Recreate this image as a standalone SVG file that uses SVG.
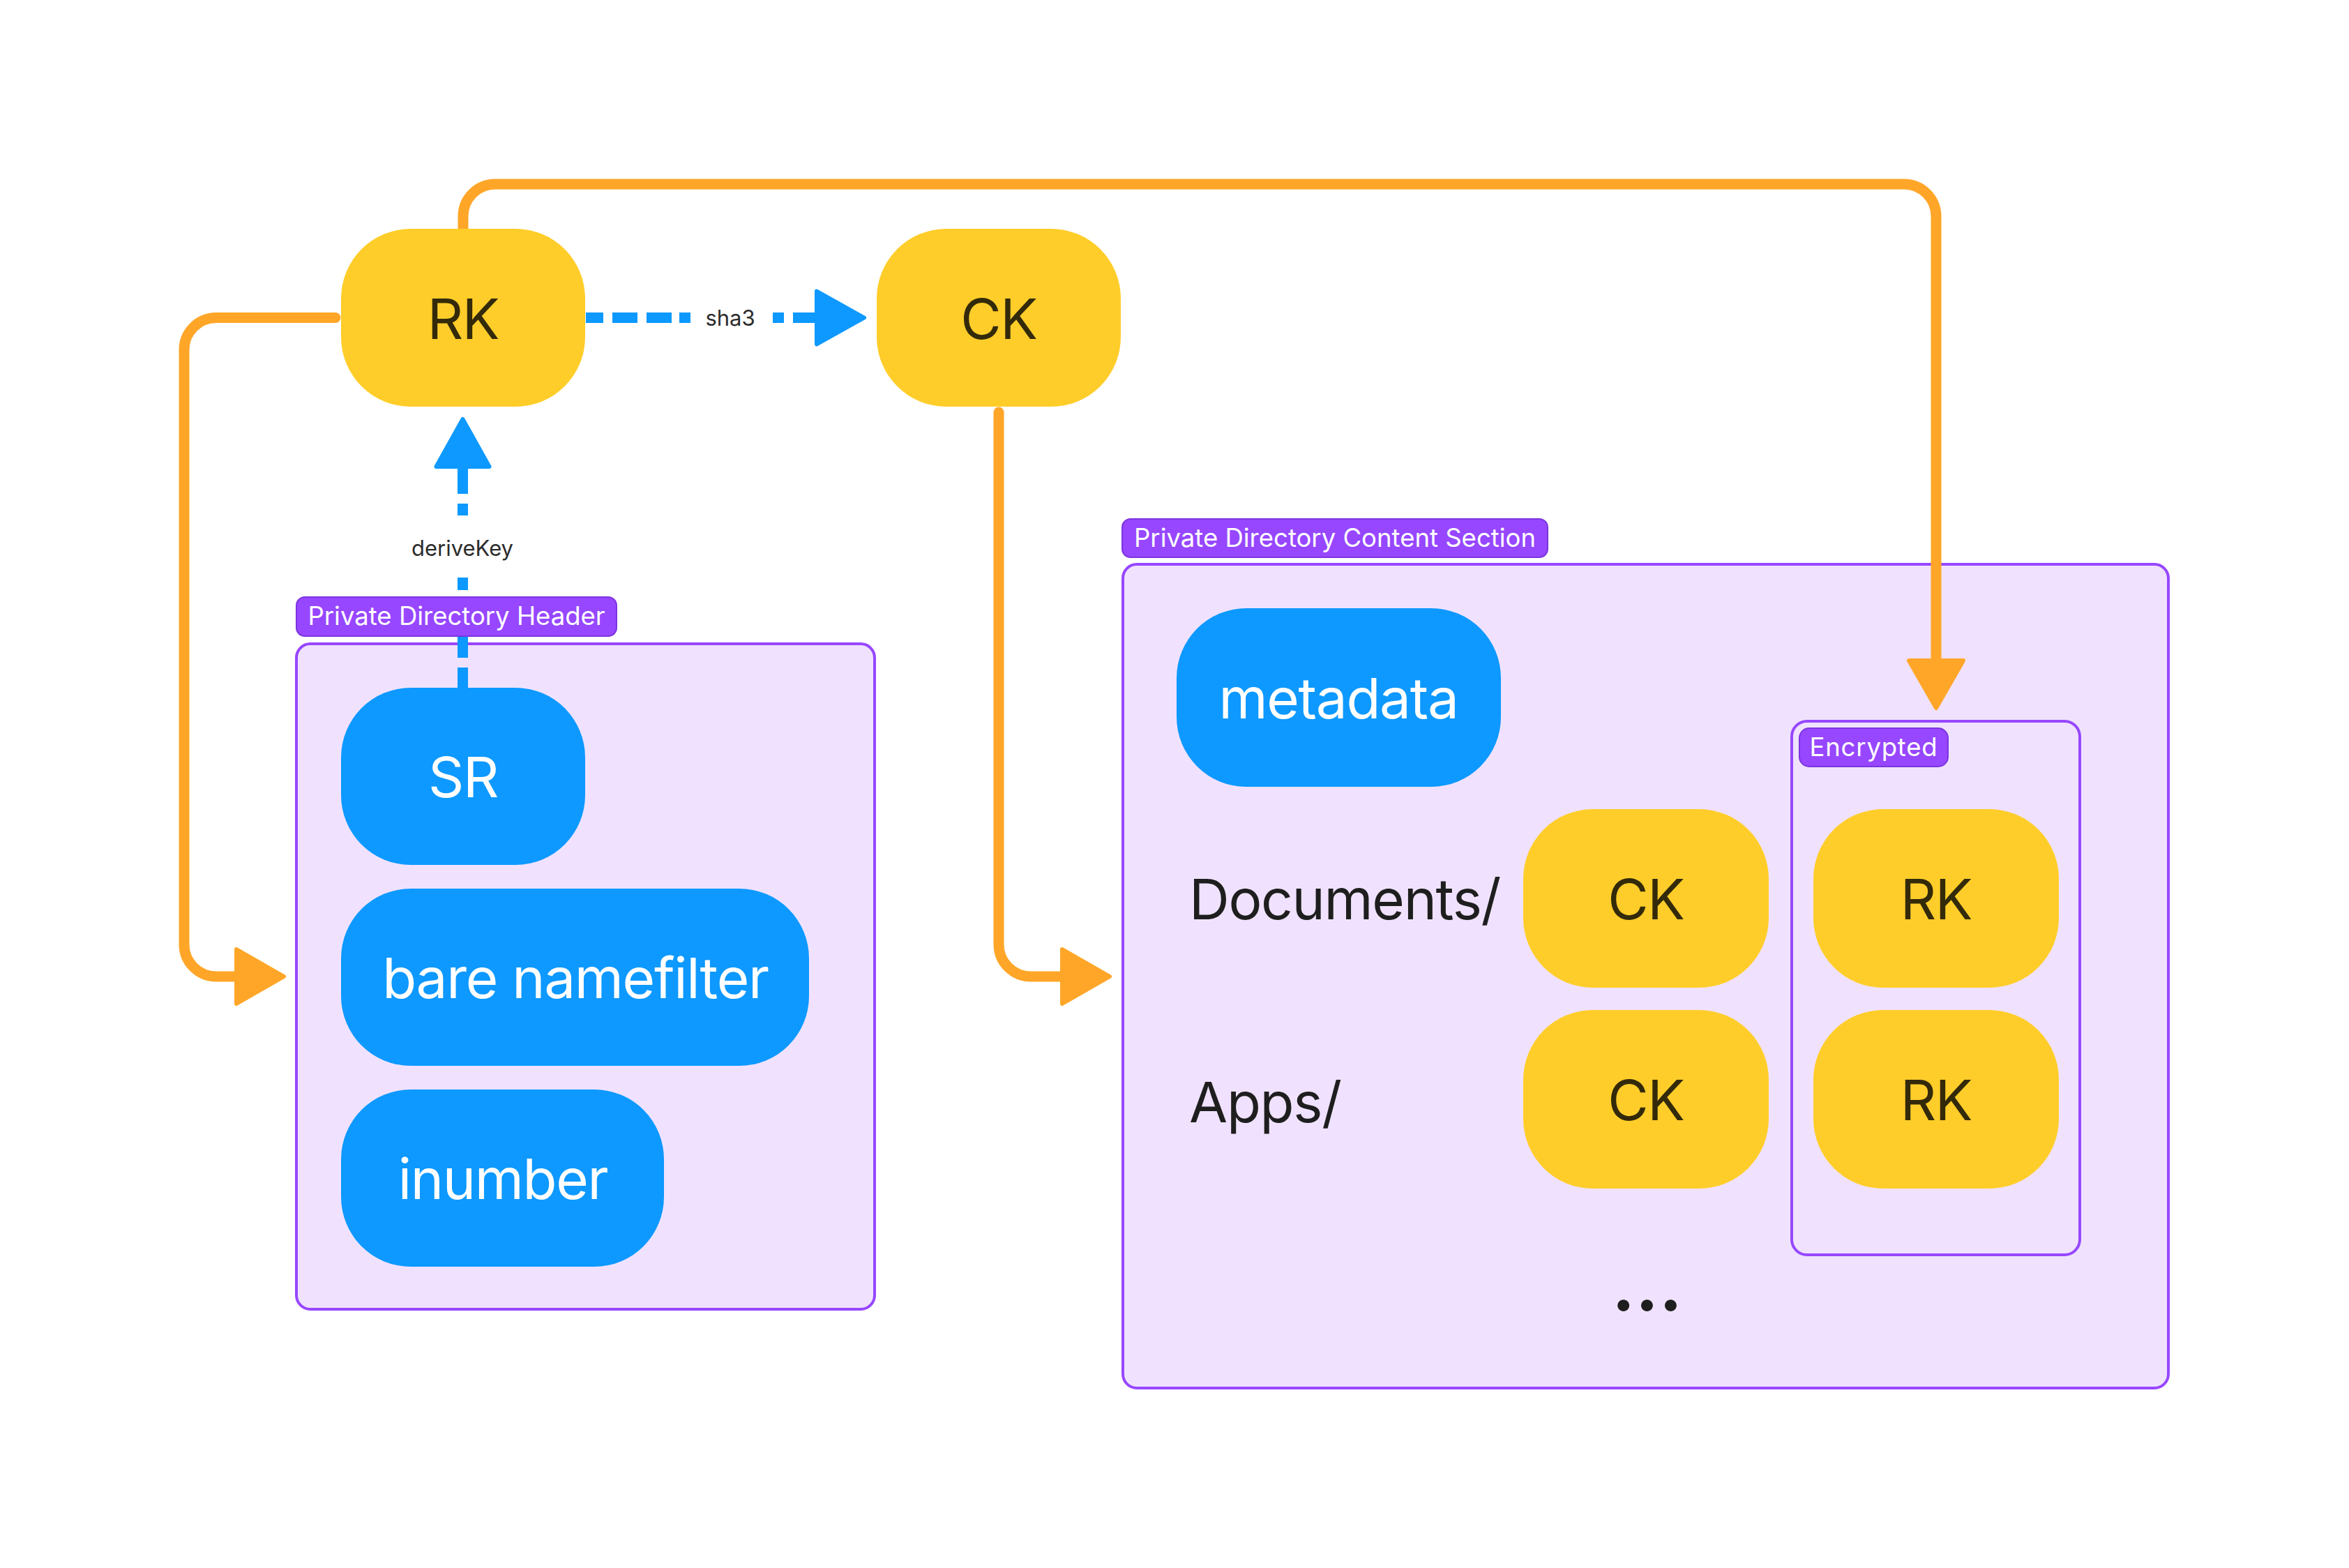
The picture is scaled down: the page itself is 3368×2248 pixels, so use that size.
<svg xmlns="http://www.w3.org/2000/svg" width="3368" height="2248" viewBox="0 0 3368 2248">
<style>
.bg{fill:#FFFFFF}
.section{fill:#F0E2FE;stroke:#9747FF;stroke-width:4}
.pill{fill:#9747FF;stroke:#7C35E0;stroke-width:2}
.pilltext{font-family:Inter,"Noto Sans",sans-serif;font-size:36.5px;fill:#FFFFFF;text-anchor:middle}
.yellow{fill:#FFCD29}
.blue{fill:#0D99FF}
.ktext{font-family:Inter,"Noto Sans",sans-serif;font-size:80px;letter-spacing:-1.3px;fill:#332A0A;text-anchor:middle}
.wtext{font-family:Inter,"Noto Sans",sans-serif;font-size:80px;letter-spacing:-1.3px;fill:#FFFFFF;text-anchor:middle}
.dtext{font-family:Inter,"Noto Sans",sans-serif;font-size:80px;letter-spacing:-1.3px;fill:#1E1E1E}
.elabel{font-family:Inter,"Noto Sans",sans-serif;font-size:31px;fill:#2C2C2C;text-anchor:middle}
.orange{fill:none;stroke:#FFA629;stroke-width:15;stroke-linecap:round}
.bdash{fill:none;stroke:#0D99FF;stroke-width:15;stroke-linecap:butt}
</style>
<defs>
<marker id="arrOrange" viewBox="-5 -50 90 100" refX="0" refY="0" markerWidth="90" markerHeight="100" markerUnits="userSpaceOnUse" orient="auto">
<path d="M3,-39 L71,0 L3,39 Z" fill="#FFA629" stroke="#FFA629" stroke-width="6" stroke-linejoin="round"/>
</marker>
<marker id="arrBlue" viewBox="-5 -50 90 100" refX="0" refY="0" markerWidth="90" markerHeight="100" markerUnits="userSpaceOnUse" orient="auto">
<path d="M3,-38 L71,0 L3,38 Z" fill="#0D99FF" stroke="#0D99FF" stroke-width="6" stroke-linejoin="round"/>
</marker>
</defs>
<rect class="bg" x="0" y="0" width="3368" height="2248"/>

<g id="header-section">
<rect class="section" x="425" y="923" width="829" height="954" rx="20"/>
</g>
<g id="content-section">
<rect class="section" x="1610" y="809" width="1499" height="1181" rx="20"/>
</g>
<g id="encrypted-section">
<rect class="section" x="2569" y="1034" width="413" height="765" rx="22"/>
</g>

<g id="connectors">
<path class="orange" d="M481,455.5 H310 A46,46 0 0 0 264,501.5 V1354 A46,46 0 0 0 310,1400 H336" marker-end="url(#arrOrange)"/>
<path class="orange" d="M664,334.5 V310 A46,46 0 0 1 710,264 H2730 A46,46 0 0 1 2776,310 V944" marker-end="url(#arrOrange)"/>
<path class="orange" d="M1432,591 V1354 A46,46 0 0 0 1478,1400 H1520" marker-end="url(#arrOrange)"/>
<path class="bdash" d="M840,455.5 H1168" stroke-dasharray="25 13 36 13 36 11 16 118 16 13 32" marker-end="url(#arrBlue)"/>
<text class="elabel" x="1047" y="467">sha3</text>
<path class="bdash" d="M663.5,986 V672" stroke-dasharray="29 14 31 13 36 17 18 89 17 14 36" marker-end="url(#arrBlue)"/>
<text class="elabel" x="663" y="797">deriveKey</text>
</g>

<g id="header-label">
<rect class="pill" x="425" y="856" width="459" height="56" rx="12"/>
<text class="pilltext" x="654.5" y="896">Private Directory Header</text>
</g>
<g id="content-label">
<rect class="pill" x="1609" y="744" width="610" height="55" rx="12"/>
<text class="pilltext" x="1914" y="784">Private Directory Content Section</text>
</g>
<g id="encrypted-label">
<rect class="pill" x="2580" y="1044" width="213" height="55" rx="14"/>
<text class="pilltext" x="2686.5" y="1084" style="letter-spacing:0.8px">Encrypted</text>
</g>

<g id="rk">
<rect class="yellow" x="489" y="328" width="350" height="255" rx="100"/>
<text class="ktext" x="664" y="486">RK</text>
</g>
<g id="ck">
<rect class="yellow" x="1257" y="328" width="350" height="255" rx="100"/>
<text class="ktext" x="1432" y="486">CK</text>
</g>
<g id="sr">
<rect class="blue" x="489" y="986" width="350" height="254" rx="100"/>
<text class="wtext" x="664" y="1143">SR</text>
</g>
<g id="bare-namefilter">
<rect class="blue" x="489" y="1274" width="671" height="254" rx="100"/>
<text class="wtext" x="825" y="1431">bare namefilter</text>
</g>
<g id="inumber">
<rect class="blue" x="489" y="1562" width="463" height="254" rx="100"/>
<text class="wtext" x="721" y="1719">inumber</text>
</g>
<g id="metadata">
<rect class="blue" x="1687" y="872" width="465" height="256" rx="100"/>
<text class="wtext" x="1919" y="1030">metadata</text>
</g>
<g id="documents">
<text class="dtext" x="1705" y="1318">Documents/</text>
</g>
<g id="apps">
<text class="dtext" x="1705" y="1609">Apps/</text>
</g>
<g id="ck-documents">
<rect class="yellow" x="2184" y="1160" width="352" height="256" rx="100"/>
<text class="ktext" x="2360" y="1318">CK</text>
</g>
<g id="ck-apps">
<rect class="yellow" x="2184" y="1448" width="352" height="256" rx="100"/>
<text class="ktext" x="2360" y="1606">CK</text>
</g>
<g id="rk-documents">
<rect class="yellow" x="2600" y="1160" width="352" height="256" rx="100"/>
<text class="ktext" x="2776" y="1318">RK</text>
</g>
<g id="rk-apps">
<rect class="yellow" x="2600" y="1448" width="352" height="256" rx="100"/>
<text class="ktext" x="2776" y="1606">RK</text>
</g>
<g id="ellipsis">
<text class="dtext" x="2360" y="1879" style="font-size:128px;letter-spacing:-3px;text-anchor:middle">...</text>
</g>
</svg>
